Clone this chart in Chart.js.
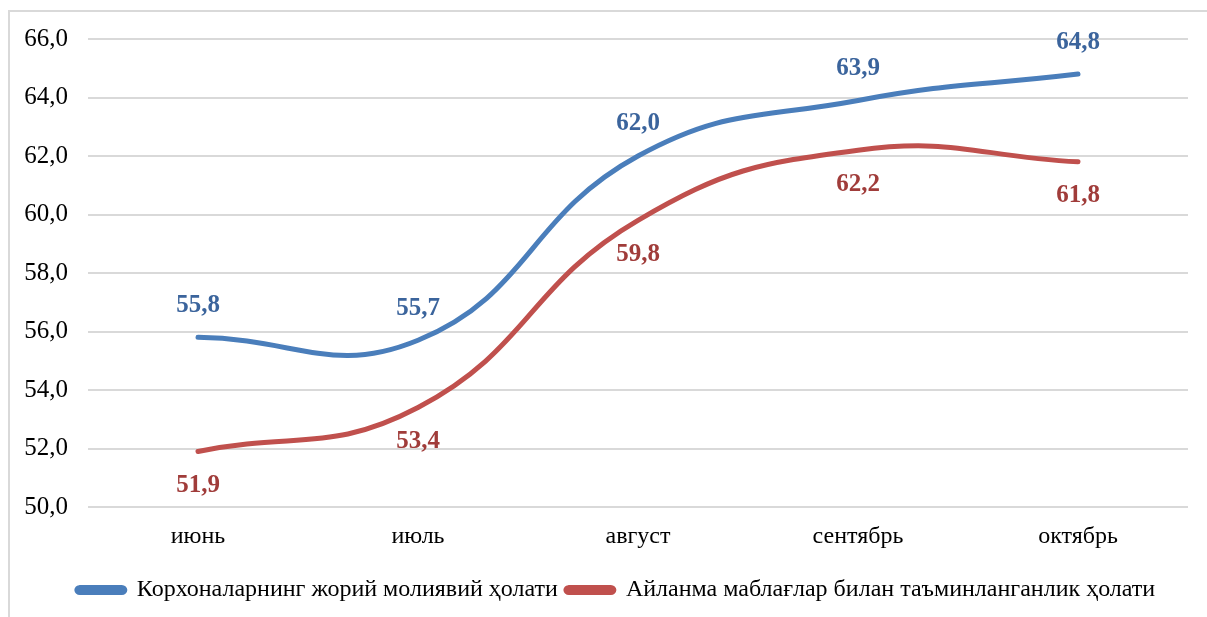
<!DOCTYPE html>
<html>
<head>
<meta charset="utf-8">
<script src="https://cdn.jsdelivr.net/npm/chart.js@4.4.1/dist/chart.umd.min.js"></script>
<style>
  html, body { margin: 0; padding: 0; background: #fff; }
  #wrap { position: relative; width: 1207px; height: 617px; overflow: hidden; }
  #frame { position: absolute; left: 8px; top: 10px; width: 1220px; height: 640px; border: 2px solid #d9d9d9; box-sizing: border-box; }
  #chart { position: absolute; left: 0; top: 0; }
</style>
</head>
<body>
<div id="wrap">
  <div id="frame"></div>
  <canvas id="chart" width="1207" height="617"></canvas>
</div>
<script>
/* Line chart: two monthly indicators, smoothed lines with value labels. */
const MONTHS = ["июнь", "июль", "август", "сентябрь", "октябрь"];
const CURRENT_STATE = [55.8, 55.7, 62.0, 63.9, 64.8];
const WORKING_CAPITAL = [51.9, 53.4, 59.8, 62.2, 61.8];
const SERIES_NAMES = [
  "Корхоналарнинг жорий молиявий ҳолати",
  "Айланма маблағлар билан таъминланганлик ҳолати",
];

const FONT = "'Liberation Serif', 'Times New Roman', serif";
const fmt = (v) => Number(v).toFixed(1).replace(".", ",");

// value labels: blue above the point, red below
const valueLabels = {
  id: "valueLabels",
  afterDatasetsDraw(chart) {
    const ctx = chart.ctx;
    ctx.save();
    ctx.font = "bold 25px " + FONT;
    ctx.textAlign = "center";
    ctx.textBaseline = "middle";
    chart.data.datasets.forEach((ds, i) => {
      const meta = chart.getDatasetMeta(i);
      meta.data.forEach((pt, j) => {
        ctx.fillStyle = ds.labelColor;
        ctx.fillText(fmt(ds.data[j]), pt.x, pt.y + ds.labelOffset);
      });
    });
    ctx.restore();
  },
};

// the legend sits a bit right of the canvas centre
const shiftLegend = {
  id: "shiftLegend",
  afterLayout(chart) {
    if (chart.legend) chart.legend.left += 44;
  },
};

new Chart(document.getElementById("chart"), {
  type: "line",
  data: {
    labels: MONTHS,
    datasets: [
      {
        label: SERIES_NAMES[0], data: CURRENT_STATE,
        borderColor: "#4a7ebb", backgroundColor: "#4a7ebb",
        borderWidth: 5, borderCapStyle: "round", tension: 0.45,
        pointRadius: 0, labelColor: "#3b649c", labelOffset: -32,
      },
      {
        label: SERIES_NAMES[1], data: WORKING_CAPITAL,
        borderColor: "#c0504d", backgroundColor: "#c0504d",
        borderWidth: 5, borderCapStyle: "round", tension: 0.45,
        pointRadius: 0, labelColor: "#a03c3a", labelOffset: 34,
      },
    ],
  },
  options: {
    responsive: false, animation: false,
    layout: { padding: { top: 39, right: 19, bottom: 5, left: 0 } },
    plugins: {
      tooltip: { enabled: false },
      legend: {
        position: "bottom",
        labels: {
          color: "#000", font: { family: FONT, size: 24 },
          boxWidth: 48, boxHeight: 5, padding: 8,
          useBorderRadius: true, borderRadius: 3,
        },
      },
    },
    scales: {
      x: {
        offset: true,
        afterFit: (s) => { s.height = 63; },
        grid: { display: false },
        border: { display: false },
        ticks: { color: "#000", font: { family: FONT, size: 24 }, padding: 7 },
      },
      y: {
        min: 50, max: 66,
        afterFit: (s) => { s.width = 88; },
        grid: { color: "#d9d9d9", lineWidth: 2, drawTicks: false },
        border: { display: false },
        ticks: { stepSize: 2, color: "#000", font: { family: FONT, size: 25 }, padding: 20, callback: (v) => fmt(v) },
      },
    },
  },
  plugins: [valueLabels, shiftLegend],
});
</script>
</body>
</html>
